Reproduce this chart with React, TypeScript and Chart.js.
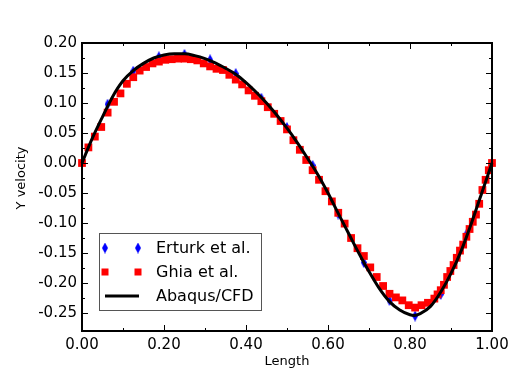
import React, { useEffect, useRef } from "react";
import { Chart, registerables } from "chart.js";

Chart.register(...registerables);

// ---- Data ----
const curveX = [0, 0.025, 0.05, 0.075, 0.1, 0.125, 0.15, 0.175, 0.2, 0.225, 0.25, 0.275, 0.3, 0.325, 0.35, 0.375, 0.4, 0.425, 0.45, 0.475, 0.5, 0.525, 0.55, 0.575, 0.6, 0.625, 0.65, 0.675, 0.7, 0.725, 0.75, 0.775, 0.8, 0.81, 0.825, 0.85, 0.875, 0.9, 0.925, 0.95, 0.975, 1.0];
const curveY = [0, 0.041, 0.077, 0.111, 0.137, 0.154, 0.166, 0.175, 0.180, 0.182, 0.182, 0.179, 0.174, 0.167, 0.158, 0.148, 0.134, 0.118, 0.100, 0.080, 0.058, 0.034, 0.008, -0.019, -0.050, -0.084, -0.117, -0.150, -0.181, -0.209, -0.231, -0.245, -0.253, -0.254, -0.251, -0.239, -0.215, -0.184, -0.146, -0.100, -0.050, 0];

const erturkX = [0, 0.0625, 0.125, 0.1875, 0.25, 0.3125, 0.375, 0.4375, 0.5, 0.5625, 0.625, 0.6875, 0.75, 0.8125, 0.875, 0.9375, 1.0];
const erturkY = [0, 0.098, 0.153, 0.177, 0.181, 0.172, 0.149, 0.108, 0.059, -0.004, -0.085, -0.166, -0.229, -0.255, -0.219, -0.119, 0];

const ghiaX = [0, 0.0156, 0.0313, 0.0469, 0.0625, 0.0781, 0.0938, 0.1094, 0.125, 0.1406, 0.1563, 0.1719, 0.1875, 0.2031, 0.2188, 0.2344, 0.25, 0.2656, 0.2813, 0.2969, 0.3125, 0.3281, 0.3438, 0.3594, 0.375, 0.3906, 0.4063, 0.4219, 0.4375, 0.4531, 0.4688, 0.4844, 0.5, 0.5156, 0.5313, 0.5469, 0.5625, 0.5781, 0.5938, 0.6094, 0.625, 0.6406, 0.6563, 0.6719, 0.6875, 0.7031, 0.7188, 0.7344, 0.75, 0.7656, 0.7813, 0.7969, 0.8125, 0.8281, 0.8438, 0.8594, 0.8672, 0.875, 0.8828, 0.8906, 0.8984, 0.9063, 0.9141, 0.9219, 0.9297, 0.9375, 0.9453, 0.9531, 0.9609, 0.9688, 0.9766, 0.9844, 0.9922, 1.0];
const ghiaY = [0, 0.026, 0.044, 0.060, 0.084, 0.102, 0.116, 0.132, 0.143, 0.154, 0.160, 0.166, 0.169, 0.172, 0.173, 0.174, 0.174, 0.173, 0.171, 0.166, 0.161, 0.157, 0.155, 0.147, 0.139, 0.131, 0.121, 0.112, 0.103, 0.093, 0.082, 0.070, 0.056, 0.038, 0.022, 0.005, -0.012, -0.028, -0.047, -0.064, -0.083, -0.101, -0.125, -0.142, -0.155, -0.174, -0.190, -0.205, -0.218, -0.224, -0.229, -0.237, -0.241, -0.237, -0.233, -0.226, -0.219, -0.212, -0.203, -0.190, -0.180, -0.170, -0.158, -0.146, -0.136, -0.123, -0.110, -0.098, -0.086, -0.068, -0.045, -0.028, -0.012, 0];

const seriesLabels = ["Erturk et al.", "Ghia et al.", "Abaqus/CFD"];
const xTitle = "Length";
const yTitle = "Y velocity";

const xMajorTicks = [0, 0.2, 0.4, 0.6, 0.8, 1.0];
const xMinorTicks = [0.1, 0.3, 0.5, 0.7, 0.9];
const yMajorTicks = [-0.25, -0.2, -0.15, -0.1, -0.05, 0, 0.05, 0.1, 0.15, 0.2];
const yMinorTicks = [-0.225, -0.175, -0.125, -0.075, -0.025, 0.025, 0.075, 0.125, 0.175];

const X_MIN = 0, X_MAX = 1, Y_MIN = -0.28, Y_MAX = 0.2;

const BLUE = "#0000ff";
const RED = "#ff0000";
const FONT = "'DejaVu Sans', sans-serif";

function makeDiamond(): HTMLCanvasElement {
  const c = document.createElement("canvas");
  c.width = 6;
  c.height = 11;
  const g = c.getContext("2d")!;
  g.fillStyle = BLUE;
  g.beginPath();
  g.moveTo(3, 0);
  g.lineTo(6, 5.5);
  g.lineTo(3, 11);
  g.lineTo(0, 5.5);
  g.closePath();
  g.fill();
  return c;
}

const zip = (xs: number[], ys: number[]) => xs.map((x, i) => ({ x, y: ys[i] }));

const fmt = (v: number) => (Math.abs(v) < 1e-9 ? "0.00" : v.toFixed(2));

export default function App() {
  const ref = useRef<HTMLCanvasElement | null>(null);

  useEffect(() => {
    document.body.style.margin = "0";
    const canvas = ref.current!;
    const diamond = makeDiamond();

    const framePlugin = {
      id: "frameTicks",
      afterDatasetsDraw(chart: any) {
        const { ctx, chartArea: a, scales } = chart;
        const xs = scales.x, ys = scales.y;
        ctx.save();
        ctx.strokeStyle = "#000";
        ctx.lineWidth = 1;
        ctx.beginPath();
        const xt = (vals: number[], len: number) => {
          for (const v of vals) {
            const px = Math.round(xs.getPixelForValue(v)) + 0.5;
            ctx.moveTo(px, a.bottom);
            ctx.lineTo(px, a.bottom - len);
            ctx.moveTo(px, a.top);
            ctx.lineTo(px, a.top + len);
          }
        };
        const yt = (vals: number[], len: number) => {
          for (const v of vals) {
            const py = Math.round(ys.getPixelForValue(v)) + 0.5;
            ctx.moveTo(a.left, py);
            ctx.lineTo(a.left + len, py);
            ctx.moveTo(a.right, py);
            ctx.lineTo(a.right - len, py);
          }
        };
        xt(xMajorTicks, 6);
        xt(xMinorTicks, 3);
        yt(yMajorTicks, 6);
        yt(yMinorTicks, 3);
        ctx.stroke();
        ctx.lineWidth = 2;
        ctx.strokeRect(a.left, a.top, a.right - a.left, a.bottom - a.top);
        ctx.restore();
      },
      afterDraw(chart: any) {
        const { ctx } = chart;
        ctx.save();
        // Y axis title
        ctx.fillStyle = "#000";
        ctx.font = `13px ${FONT}`;
        ctx.textAlign = "center";
        ctx.textBaseline = "middle";
        ctx.translate(22, 178);
        ctx.rotate(-Math.PI / 2);
        ctx.fillText(yTitle, 0, 0);
        ctx.restore();

        // Legend box
        ctx.save();
        const bx = 99, by = 233, bw = 162, bh = 77;
        ctx.fillStyle = "#fff";
        ctx.fillRect(bx, by, bw, bh);
        ctx.strokeStyle = "#555";
        ctx.lineWidth = 1;
        ctx.strokeRect(bx + 0.5, by + 0.5, bw, bh);
        const rows = [248, 272, 296];
        const m1 = 105, m2 = 138;
        for (const mx of [m1, m2]) {
          ctx.drawImage(diamond, mx - 3, rows[0] - 5.5);
        }
        ctx.fillStyle = RED;
        for (const mx of [m1, m2]) {
          ctx.fillRect(mx - 3.5, rows[1] - 3.5, 7, 7);
        }
        ctx.strokeStyle = "#000";
        ctx.lineWidth = 3;
        ctx.beginPath();
        ctx.moveTo(m1, rows[2]);
        ctx.lineTo(m2 + 1, rows[2]);
        ctx.stroke();
        ctx.fillStyle = "#000";
        ctx.font = `16px ${FONT}`;
        ctx.textAlign = "left";
        ctx.textBaseline = "middle";
        seriesLabels.forEach((t, i) => ctx.fillText(t, 156, rows[i] + 1));
        ctx.restore();
      },
    };

    const chart = new Chart(canvas, {
      type: "scatter",
      data: {
        datasets: [
          {
            label: seriesLabels[2],
            data: zip(curveX, curveY),
            showLine: true,
            borderColor: "#000",
            borderWidth: 3,
            pointRadius: 0,
            cubicInterpolationMode: "monotone",
            clip: false,
          } as any,
          {
            label: seriesLabels[1],
            data: zip(ghiaX, ghiaY),
            pointStyle: "rect",
            pointRadius: 5.5,
            backgroundColor: RED,
            borderColor: RED,
            borderWidth: 0,
            clip: false,
          },
          {
            label: seriesLabels[0],
            data: zip(erturkX, erturkY),
            pointStyle: diamond,
            pointRadius: 5,
            backgroundColor: BLUE,
            borderColor: BLUE,
            clip: false,
          } as any,
        ],
      },
      options: {
        animation: false,
        responsive: false,
        events: [],
        layout: { padding: { top: 43, right: 24, left: 0, bottom: 0 } },
        plugins: { legend: { display: false }, tooltip: { enabled: false } },
        scales: {
          x: {
            type: "linear",
            min: X_MIN,
            max: X_MAX,
            grid: { display: false, drawTicks: false },
            border: { display: false },
            afterFit: (s: any) => { s.height = 52; },
            afterBuildTicks: (s: any) => { s.ticks = xMajorTicks.map((v) => ({ value: v })); },
            ticks: {
              padding: 5,
              color: "#000",
              font: { family: FONT, size: 15 },
              callback: (v: any) => fmt(Number(v)),
            },
            title: {
              display: true,
              text: xTitle,
              color: "#000",
              font: { family: FONT, size: 13 },
              padding: { top: 0, bottom: 14 },
            },
          },
          y: {
            type: "linear",
            min: Y_MIN,
            max: Y_MAX,
            grid: { display: false, drawTicks: false },
            border: { display: false },
            afterFit: (s: any) => { s.width = 82; },
            afterBuildTicks: (s: any) => { s.ticks = yMajorTicks.map((v) => ({ value: v })); },
            ticks: {
              padding: 5,
              color: "#000",
              font: { family: FONT, size: 15 },
              callback: (v: any) => fmt(Number(v)),
            },
          },
        },
      },
      plugins: [framePlugin],
    });

    return () => chart.destroy();
  }, []);

  return (
    <div style={{ position: "absolute", left: 0, top: 0, width: 516, height: 383 }}>
      <canvas ref={ref} width={516} height={383} style={{ display: "block" }} />
    </div>
  );
}
